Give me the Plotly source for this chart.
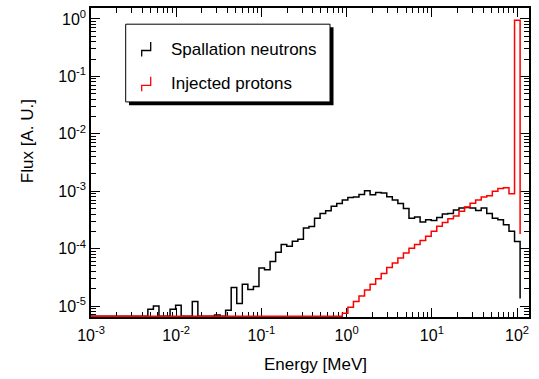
import numpy as np
import plotly.graph_objects as go

# ---- histogram binning (log-spaced energy bins, MeV) ----
LOG_E_MIN = -3.05
LOG_BIN_WIDTH = 0.0652
N_BINS = 78

# ---- flux per bin (A.U.), 0 = empty bin ----
neutron_flux = [0] * 11 + [
    8.8e-6, 1.0e-5, 0, 0, 8.8e-6, 1.03e-5, 0, 0, 1.2e-5, 0, 0, 0, 7e-6, 0,
    8.5e-6, 2.1e-5, 1.11e-5, 2.4e-5, 1.94e-5, 2.2e-5, 4.6e-5, 4.3e-5, 6.0e-5,
    8.7e-5, 1.18e-4, 1.1e-4, 1.35e-4, 1.46e-4, 2.3e-4, 2.42e-4, 3.37e-4,
    4.1e-4, 4.57e-4, 5.5e-4, 6.1e-4, 7.0e-4, 7.8e-4, 7.9e-4, 8.8e-4, 1.02e-3,
    8.7e-4, 9.5e-4, 9.3e-4, 8.0e-4, 7.0e-4, 6.1e-4, 5.0e-4, 3.4e-4, 3.55e-4,
    2.9e-4, 3.2e-4, 3.1e-4, 3.5e-4, 4.0e-4, 4.1e-4, 4.7e-4, 5.1e-4, 5.2e-4,
    5.1e-4, 4.6e-4, 5.1e-4, 4.1e-4, 3.4e-4, 3.2e-4, 2.6e-4, 2.0e-4, 1.33e-4,
]
neutron_end = 1.36e-5

proton_flux = [0] * 46 + [
    7.5e-6, 9.5e-6, 1.2e-5, 1.5e-5, 1.9e-5, 2.4e-5, 3.0e-5, 3.7e-5, 4.7e-5,
    5.6e-5, 6.9e-5, 8.4e-5, 1.02e-4, 1.18e-4, 1.38e-4, 1.65e-4, 2.0e-4,
    2.45e-4, 2.85e-4, 3.3e-4, 3.7e-4, 4.5e-4, 5.3e-4, 6.2e-4, 7.0e-4, 7.9e-4,
    8.3e-4, 1.0e-3, 1.12e-3, 1.15e-3, 9.0e-4, 0.95,
]
proton_end = 1.8e-4

series_names = ["Spallation neutrons", "Injected protons"]
x_tick_exps = [-3, -2, -1, 0, 1, 2]
y_tick_exps = [-5, -4, -3, -2, -1, 0]

# ---- axis ranges (log10) ----
X_RANGE = [-3.0, 2.14]
Y_RANGE = [-5.19, 0.19]

edges = 10 ** (LOG_E_MIN + LOG_BIN_WIDTH * np.arange(N_BINS + 1))
floor_val = 10 ** (Y_RANGE[0] + 0.012)


def step_y(vals, end):
    v = [x if x > 0 else floor_val for x in vals]
    return v + [end]


fig = go.Figure()
fig.add_trace(go.Scatter(x=edges, y=step_y(neutron_flux, neutron_end), mode="lines",
                         line=dict(color="black", width=1.5, shape="hv"),
                         name=series_names[0], showlegend=False))
fig.add_trace(go.Scatter(x=edges, y=step_y(proton_flux, proton_end), mode="lines",
                         line=dict(color="#ff0000", width=1.5, shape="hv"),
                         name=series_names[1], showlegend=False))

FONT = "Liberation Sans, Arial, Helvetica, sans-serif"


def minor_vals(exps):
    lo, hi = min(exps) - 1, max(exps) + 1
    return [m * 10.0 ** e for e in range(lo, hi + 1) for m in range(2, 10)]


def axis(exps, rng, standoff):
    return dict(
        type="log", range=rng,
        tickmode="array",
        tickvals=[10.0 ** e for e in exps],
        ticktext=["10<sup>%d</sup>" % e for e in exps],
        ticks="inside", ticklen=9, tickwidth=1, tickcolor="black",
        minor=dict(tickmode="array", tickvals=minor_vals(exps), ticks="inside",
                   ticklen=5, tickwidth=1, tickcolor="black", showgrid=False),
        showline=True, linecolor="black", linewidth=1.5, mirror="allticks",
        showgrid=False, zeroline=False,
        tickfont=dict(family=FONT, size=16, color="black"),
        ticklabelstandoff=standoff,
        layer="below traces",
    )


fig.update_layout(
    width=539, height=379,
    margin=dict(l=91, r=10, t=6, b=62),
    paper_bgcolor="white", plot_bgcolor="white",
    xaxis=axis(x_tick_exps, X_RANGE, 3),
    yaxis=axis(y_tick_exps, Y_RANGE, 0),
    showlegend=False,
)

# ---- helpers for pixel -> paper conversion of decorations ----
PL, PT, PW, PH = 91, 6, 438, 311


def px(x):
    return (x - PL) / PW


def py(y):
    return (PT + PH - y) / PH


# axis titles
fig.add_annotation(text="Energy [MeV]", x=px(315), y=py(365), xref="paper", yref="paper",
                   showarrow=False, xanchor="center", yanchor="middle",
                   font=dict(family=FONT, size=17, color="black"))
fig.add_annotation(text="Flux [A. U.]", x=px(27), y=py(140), xref="paper", yref="paper",
                   showarrow=False, xanchor="center", yanchor="middle", textangle=-90,
                   font=dict(family=FONT, size=17, color="black"))

# legend box with shadow
fig.add_shape(type="rect", xref="paper", yref="paper",
              x0=px(129), x1=px(333.5), y0=py(104), y1=py(25.5),
              fillcolor="black", line=dict(width=0), layer="above")
fig.add_shape(type="rect", xref="paper", yref="paper",
              x0=px(125.7), x1=px(330), y0=py(100.5), y1=py(22.3),
              fillcolor="white", line=dict(color="black", width=1), layer="above")

colors = ["black", "#ff0000"]
for i, (name, col) in enumerate(zip(series_names, colors)):
    yc = 47.3 + 35 * i
    path = "M %f %f L %f %f L %f %f L %f %f" % (
        px(141.7), py(yc + 7.5), px(141.7), py(yc + 1.5),
        px(150.7), py(yc + 1.5), px(150.7), py(yc - 7))
    fig.add_shape(type="path", xref="paper", yref="paper", path=path,
                  line=dict(color=col, width=1.3), layer="above")
    fig.add_annotation(text=name, x=px(169), y=py(yc), xref="paper", yref="paper",
                       showarrow=False, xanchor="left", yanchor="middle",
                       font=dict(family=FONT, size=17, color="black"))

fig.write_html("out.html")
